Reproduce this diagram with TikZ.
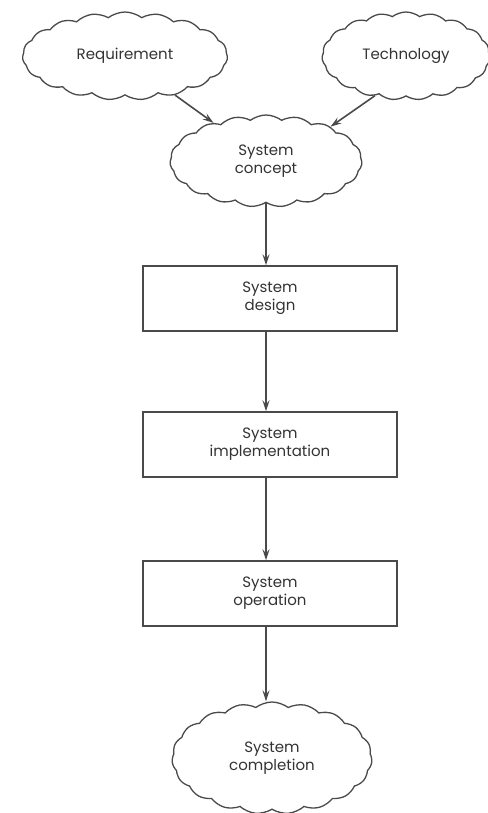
\documentclass[tikz,border=0pt]{standalone}
\usepackage{fontspec}
\setmainfont{Poppins}
\usetikzlibrary{shapes.symbols,arrows.meta}
\definecolor{ink}{HTML}{4A4A4A}
\definecolor{txt}{HTML}{333333}
\tikzset{
  cloudbox/.style={cloud, cloud puffs=19, cloud puff arc=75, cloud ignores aspect,
    draw=ink, line width=1.3pt, align=center, text=txt, font=\fontsize{15}{18}\selectfont, inner sep=0pt},
  stagebox/.style={rectangle, draw=ink, line width=1.4pt, minimum width=254pt, minimum height=65pt,
    align=center, text=txt, font=\fontsize{15}{18}\selectfont},
  flow/.style={draw=ink, line width=1.6pt, -{Stealth[length=11pt,width=7pt,inset=4pt]}}
}
\begin{document}
\begin{tikzpicture}[x=1pt,y=-1pt]
\useasboundingbox (0,0) rectangle (487,813);
\node[cloudbox, minimum width=205pt, minimum height=88pt] (req) at (125,56) {Requirement};
\node[cloudbox, minimum width=168pt, minimum height=88pt] (tech) at (406,56) {Technology};
\node[cloudbox, minimum width=192pt, minimum height=92pt] (concept) at (266,161) {System\\concept};
\node[stagebox] (design) at (270,298.5) {System\\design};
\node[stagebox] (impl) at (270,444.5) {System\\implementation};
\node[stagebox] (oper) at (270,593.5) {System\\operation};
\node[cloudbox, minimum width=200pt, minimum height=112pt] (compl) at (272,758) {System\\completion};
\draw[flow] (req.-38) -- (concept.144);
\draw[flow] (tech.-128) -- (concept.28);
\draw[flow] (concept.south) -- (concept.south |- design.north);
\draw[flow] (design.south -| concept.south) -- (impl.north -| concept.south);
\draw[flow] (impl.south -| concept.south) -- (oper.north -| concept.south);
\draw[flow] (oper.south -| concept.south) -- (concept.south |- compl.north);
\end{tikzpicture}
\end{document}
